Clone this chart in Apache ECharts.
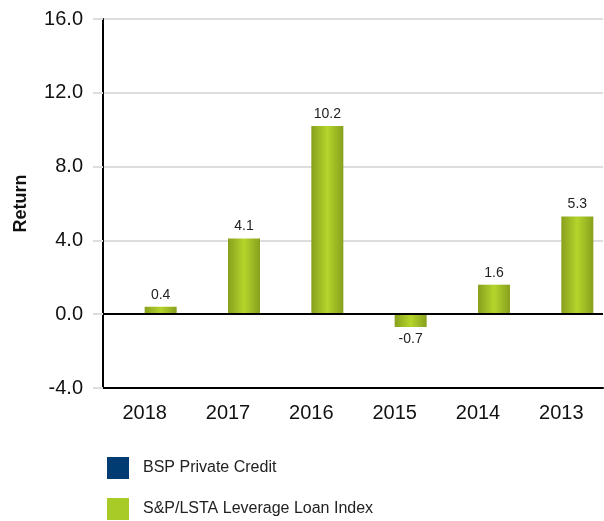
<!DOCTYPE html>
<html><head><meta charset="utf-8">
<script src="https://cdn.jsdelivr.net/npm/echarts@6/dist/echarts.min.js"></script>
<style>html,body{margin:0;padding:0;background:#fff}#c{width:604px;height:521px}</style>
</head><body><div id="c"></div>
<script>
const categories = ['2018','2017','2016','2015','2014','2013'];
const bspValues = [null,null,null,null,null,null];
const loanValues = [0.4,4.1,10.2,-0.7,1.6,5.3];
const yTicks = {min:-4,max:16,interval:4};
const seriesNames = ['BSP Private Credit','S&P/LSTA Leverage Loan Index'];

const chart = echarts.init(document.getElementById('c'));
const green = new echarts.graphic.LinearGradient(0,0,1,0,[
  {offset:0,color:'#88a01e'},{offset:0.5,color:'#b4d52b'},{offset:1,color:'#88a01e'}]);
const legendBase = {orient:'horizontal',left:103,itemWidth:22,itemHeight:22,padding:[0,0,0,4],
  icon:'rect',textStyle:{fontSize:16,color:'#222',padding:[0,0,0,9]}};
chart.setOption({
  animation:false,
  textStyle:{fontFamily:'Liberation Sans, Arial, sans-serif'},
  grid:{left:103,right:1,top:19,bottom:133},
  legend:[
    Object.assign({},legendBase,{top:457,data:[{name:seriesNames[0],itemStyle:{color:'#003b71'}}]}),
    Object.assign({},legendBase,{top:498,data:[{name:seriesNames[1],itemStyle:{color:'#a8cb28'}}]})
  ],
  xAxis:{
    type:'category',data:categories,
    axisLine:{onZero:false,lineStyle:{color:'#000',width:2}},
    axisTick:{alignWithLabel:true,length:12,lineStyle:{color:'#c8ccd2',width:3}},
    axisLabel:{fontSize:20,color:'#111',margin:15}
  },
  yAxis:{
    type:'value',min:yTicks.min,max:yTicks.max,interval:yTicks.interval,
    name:'Return',nameLocation:'middle',nameGap:73,
    nameTextStyle:{fontSize:18,fontWeight:'bold',color:'#111'},
    axisLine:{show:true,lineStyle:{color:'#000',width:2}},
    axisTick:{show:true,length:10,lineStyle:{color:'#ddd',width:2}},
    axisLabel:{fontSize:20,color:'#111',margin:20,formatter:v=>v.toFixed(1)},
    splitLine:{lineStyle:{color:'#ddd',width:2}}
  },
  series:[
    {name:seriesNames[0],type:'bar',barWidth:32,barGap:'0%',data:bspValues,
     itemStyle:{color:'#003b71'}},
    {name:seriesNames[1],type:'bar',barWidth:32,data:loanValues.map(v=>({
       value:v,label:{position:v<0?'bottom':'top'}})),
     itemStyle:{color:green},
     label:{show:true,fontSize:14,color:'#222',distance:5,formatter:p=>p.value.toFixed(1)},
     markLine:{silent:true,symbol:'none',label:{show:false},
       lineStyle:{color:'#000',width:2,type:'solid'},data:[{yAxis:0}]}}
  ]
});
</script></body></html>
